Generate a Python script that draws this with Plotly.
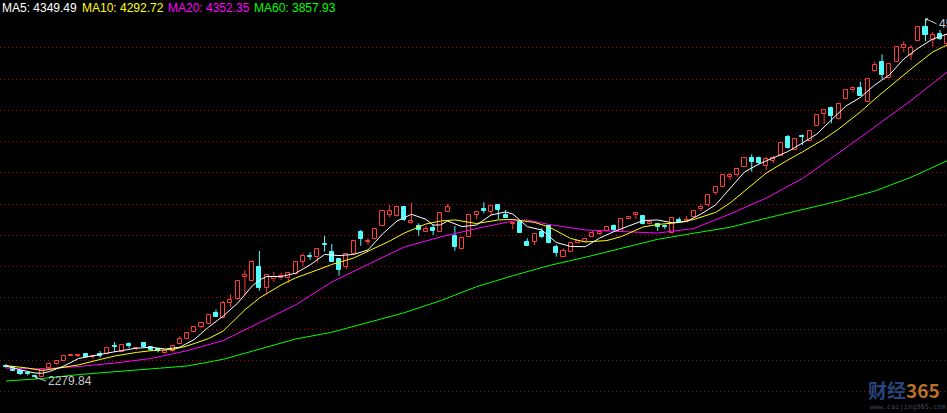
import plotly.graph_objects as go

# ---------------- data ----------------
opens = [2353, 2341, 2321, 2305, 2289, 2283, 2335, 2361, 2384, 2416,
         2416, 2427, 2410, 2424, 2427, 2481, 2442, 2491, 2459, 2497,
         2469, 2456, 2431, 2444, 2493, 2521, 2566, 2602, 2621, 2687,
         2659, 2755, 2777, 2918, 2896, 2982, 2847, 2905, 2911, 2911,
         2939, 3018, 3054, 3046, 3131, 3080, 3033, 2986, 3070, 3206,
         3144, 3160, 3249, 3318, 3310, 3370, 3267, 3248, 3210, 3235,
         3210, 3334, 3182, 3099, 3178, 3318, 3353, 3338, 3381, 3317,
         3261, 3274, 3146, 3146, 3210, 3248, 3112, 3050, 3082, 3135,
         3146, 3178, 3195, 3216, 3246, 3210, 3289, 3318, 3310, 3257,
         3257, 3248, 3203, 3285, 3274, 3306, 3353, 3381, 3455, 3498,
         3560, 3573, 3626, 3679, 3679, 3632, 3662, 3696, 3814, 3733,
         3824, 3790, 3888, 3963, 4003, 3931, 4059, 4115, 4131, 4042,
         4240, 4294, 4195, 4294, 4383, 4341, 4432, 4522, 4437, 4475,
         4411]
highs = [2363, 2347, 2328, 2312, 2293, 2334, 2373, 2385, 2421, 2423,
         2421, 2428, 2415, 2446, 2466, 2504, 2485, 2502, 2469, 2504,
         2472, 2459, 2449, 2478, 2542, 2561, 2600, 2625, 2677, 2713,
         2766, 2809, 2895, 2965, 3029, 3086, 2936, 2952, 2947, 2945,
         3016, 3071, 3078, 3105, 3184, 3131, 3041, 3068, 3150, 3221,
         3169, 3227, 3343, 3381, 3368, 3376, 3395, 3263, 3246, 3257,
         3329, 3387, 3246, 3178, 3323, 3336, 3398, 3381, 3384, 3349,
         3274, 3275, 3167, 3198, 3231, 3253, 3128, 3103, 3137, 3154,
         3166, 3217, 3214, 3240, 3257, 3291, 3312, 3329, 3313, 3275,
         3263, 3256, 3297, 3302, 3312, 3345, 3387, 3448, 3499, 3576,
         3587, 3614, 3681, 3705, 3690, 3690, 3694, 3782, 3829, 3803,
         3832, 3857, 3957, 3992, 4010, 4027, 4118, 4138, 4170, 4189,
         4298, 4345, 4283, 4392, 4430, 4405, 4520, 4572.39, 4490, 4501,
         4481]
lows = [2337, 2318, 2293, 2289, 2279.84, 2282, 2331, 2357, 2382, 2414,
        2408, 2408, 2397, 2403, 2424, 2442, 2440, 2464, 2453, 2468,
        2449, 2437, 2430, 2440, 2491, 2520, 2565, 2595, 2619, 2664,
        2657, 2730, 2773, 2805, 2894, 2832, 2815, 2890, 2901, 2883,
        2936, 2986, 3029, 3011, 3082, 3016, 2928, 2969, 3067, 3120,
        3125, 3157, 3246, 3302, 3307, 3278, 3263, 3184, 3208, 3189,
        3208, 3333, 3088, 3096, 3176, 3291, 3327, 3317, 3289, 3297,
        3225, 3201, 3118, 3125, 3169, 3134, 3050, 3048, 3080, 3134,
        3144, 3174, 3189, 3214, 3210, 3208, 3288, 3291, 3256, 3256,
        3216, 3227, 3199, 3267, 3273, 3304, 3342, 3370, 3445, 3496,
        3542, 3562, 3624, 3594, 3641, 3605, 3649, 3694, 3741, 3729,
        3765, 3788, 3886, 3899, 3903, 3929, 4057, 4102, 4078, 4040,
        4234, 4185, 4193, 4293, 4358, 4309, 4430, 4430, 4394, 4437,
        4385]
closes = [2341, 2321, 2299, 2296, 2283, 2329, 2363, 2382, 2414, 2421,
          2419, 2411, 2414, 2417, 2464, 2470, 2483, 2478, 2465, 2470,
          2453, 2446, 2448, 2476, 2525, 2559, 2598, 2623, 2675, 2666,
          2751, 2773, 2894, 2933, 3018, 2851, 2933, 2922, 2926, 2943,
          3014, 3054, 3046, 3097, 3123, 3018, 2965, 3067, 3148, 3165,
          3153, 3225, 3342, 3340, 3366, 3285, 3278, 3221, 3229, 3216,
          3327, 3366, 3114, 3167, 3317, 3334, 3344, 3374, 3349, 3299,
          3267, 3203, 3120, 3195, 3174, 3135, 3071, 3086, 3135, 3152,
          3163, 3199, 3210, 3238, 3221, 3289, 3302, 3327, 3257, 3274,
          3243, 3243, 3295, 3274, 3283, 3342, 3370, 3445, 3498, 3573,
          3573, 3611, 3679, 3658, 3651, 3675, 3679, 3779, 3743, 3801,
          3816, 3854, 3956, 3989, 3952, 4025, 4117, 4131, 4080, 4187,
          4277, 4213, 4281, 4390, 4405, 4387, 4518, 4469, 4469, 4441,
          4469]
days = list(range(len(closes)))

# moving-average lines at selected days
ma5_days = [0, 2, 4, 5, 6, 8, 10, 12, 14, 16, 18, 20, 22, 24, 26, 28, 30, 32, 34, 35,
            36, 38, 40, 42, 44, 46, 48, 50, 52, 54, 56, 58, 59, 60, 61, 63, 65, 67, 69, 70,
            72, 74, 76, 78, 80, 82, 84, 86, 88, 90, 92, 94, 96, 98, 100, 102, 104, 106, 108, 110,
            112, 114, 116, 118, 120, 122, 124, 126, 128, 130]
ma5_vals = [2350, 2325, 2305, 2304, 2315, 2350, 2398, 2417, 2433, 2449, 2464, 2470, 2459, 2470, 2520, 2600, 2670, 2753, 2862, 2901,
            2923, 2923, 2944, 2997, 3064, 3057, 3064, 3093, 3195, 3278, 3321, 3289, 3252, 3253, 3278, 3242, 3253, 3317, 3336, 3323,
            3242, 3221, 3141, 3115, 3114, 3169, 3211, 3246, 3281, 3285, 3267, 3275, 3323, 3381, 3489, 3592, 3643, 3681, 3723, 3777,
            3835, 3925, 4014, 4069, 4149, 4213, 4315, 4385, 4443, 4475]
ma10_days = [0, 3, 5, 8, 10, 13, 15, 18, 20, 23, 25, 28, 30, 33, 35, 38, 40, 43, 45, 48,
             50, 53, 55, 58, 60, 62, 65, 68, 70, 73, 75, 78, 80, 83, 85, 88, 90, 93, 95, 98,
             100, 103, 105, 108, 110, 113, 115, 118, 120, 123, 125, 128, 130]
ma10_vals = [2353, 2337, 2321, 2341, 2357, 2392, 2414, 2437, 2448, 2456, 2478, 2526, 2574, 2710, 2785, 2869, 2914, 2965, 3000, 3041,
             3086, 3150, 3201, 3259, 3278, 3285, 3262, 3285, 3288, 3269, 3240, 3166, 3144, 3153, 3179, 3240, 3256, 3269, 3288, 3333,
             3393, 3509, 3585, 3669, 3720, 3803, 3867, 3976, 4059, 4174, 4251, 4360, 4405]
ma20_days = [0, 5, 10, 15, 20, 25, 30, 35, 40, 45, 50, 55, 60, 65, 70, 72, 75, 80, 85, 90,
             95, 100, 105, 110, 115, 120, 125, 130]
ma20_vals = [2337, 2331, 2347, 2369, 2398, 2448, 2513, 2625, 2741, 2888, 3000, 3112, 3176, 3230, 3278, 3285, 3256, 3221, 3211, 3201,
             3230, 3323, 3425, 3550, 3713, 3880, 4049, 4232]
ma60_days = [0, 5, 10, 15, 20, 25, 30, 35, 40, 45, 50, 55, 60, 65, 70, 75, 80, 85, 90, 95,
             100, 105, 110, 115, 120, 125, 130]
ma60_vals = [2254, 2270, 2295, 2312, 2331, 2350, 2393, 2457, 2523, 2566, 2630, 2691, 2768, 2858, 2928, 2993, 3046, 3104, 3161, 3200,
             3238, 3296, 3351, 3406, 3470, 3558, 3664]

header_texts = ["MA5: 4349.49", "MA10: 4292.72", "MA20: 4352.35", "MA60: 3857.93"]
grid_levels = [2187 + 200 * k for k in range(12)]
low_day, low_val = 4, 2279.84
high_day, high_val = 127, 4572.39

# ---------------- styling ----------------
RED = "#ff3c3c"
CYAN = "#54fcfc"
MA_COLORS = ["#ffffff", "#ffff00", "#ff00ff", "#00ff00"]

up_x, up_base, up_h = [], [], []
dn_x, dn_base, dn_h = [], [], []
up_wx, up_wy, dn_wx, dn_wy = [], [], [], []
for d, o, h, l, c in zip(days, opens, highs, lows, closes):
    top, bot = max(o, c), min(o, c)
    if c >= o:
        up_x.append(d); up_base.append(bot); up_h.append(max(top - bot, 0.5))
        up_wx += [d, d, None, d, d, None]
        up_wy += [h, top, None, bot, l, None]
    else:
        dn_x.append(d); dn_base.append(bot); dn_h.append(max(top - bot, 0.5))
        dn_wx += [d, d, None]
        dn_wy += [h, l, None]

fig = go.Figure()
fig.add_trace(go.Bar(x=up_x, y=up_h, base=up_base, width=0.56,
                     marker=dict(color="#000000", line=dict(color=RED, width=1)),
                     hoverinfo="skip"))
fig.add_trace(go.Bar(x=dn_x, y=dn_h, base=dn_base, width=0.56,
                     marker=dict(color=CYAN, line=dict(color=CYAN, width=1)),
                     hoverinfo="skip"))
fig.add_trace(go.Scatter(x=up_wx, y=up_wy, mode="lines",
                         line=dict(color=RED, width=1), hoverinfo="skip"))
fig.add_trace(go.Scatter(x=dn_wx, y=dn_wy, mode="lines",
                         line=dict(color=CYAN, width=1), hoverinfo="skip"))

for (xs, ys), col in zip([(ma60_days, ma60_vals), (ma20_days, ma20_vals),
                          (ma10_days, ma10_vals), (ma5_days, ma5_vals)],
                         [MA_COLORS[3], MA_COLORS[2], MA_COLORS[1], MA_COLORS[0]]):
    fig.add_trace(go.Scatter(x=xs, y=ys, mode="lines",
                             line=dict(color=col, width=1), hoverinfo="skip"))

W, H = 947, 413
header_x = [0, 80, 166, 252]
for txt, px, col in zip(header_texts, header_x, MA_COLORS):
    fig.add_annotation(text=txt, xref="paper", yref="paper", x=px / W, y=1 - 8.5 / H,
                       xanchor="left", yanchor="middle", showarrow=False,
                       font=dict(family="Liberation Sans", size=12, color=col))

fig.add_annotation(x=low_day, y=low_val, text=f"{low_val:.2f}", showarrow=True,
                   ax=11, ay=4, xanchor="left", yanchor="middle",
                   arrowhead=1, arrowsize=0.7, arrowwidth=1, arrowcolor="#c8c8c8",
                   font=dict(family="Liberation Sans", size=12, color="#c8c8c8"))
fig.add_annotation(x=high_day, y=high_val, text=f"{high_val:.2f}", showarrow=True,
                   ax=11, ay=5, xanchor="left", yanchor="middle",
                   arrowhead=1, arrowsize=0.7, arrowwidth=1, arrowcolor="#c8c8c8",
                   font=dict(family="Liberation Sans", size=12, color="#c8c8c8"))

# watermark
fig.add_annotation(text='<b><span style="color:#26457a">财经</span><span style="color:#b8732a">365</span></b>',
                   xref="paper", yref="paper", x=866 / W, y=1 - 389 / H, xanchor="left", yanchor="middle",
                   showarrow=False, font=dict(family="Noto Sans CJK SC", size=19))
fig.add_annotation(text="www.caijing365.com", xref="paper", yref="paper", x=868 / W, y=1 - 407 / H,
                   xanchor="left", yanchor="middle", showarrow=False,
                   font=dict(family="DejaVu Sans Mono", size=7, color="#3c4c5c"))

y_top = 4692.6
y_bot = y_top - 6.4 * H
fig.update_layout(
    width=W, height=H, margin=dict(l=0, r=0, t=0, b=0),
    paper_bgcolor="#000000", plot_bgcolor="#000000",
    showlegend=False, barmode="overlay", bargap=0,
    xaxis=dict(range=[-0.83, 129.97], visible=True, showgrid=False, zeroline=False,
               showticklabels=False, ticks="", showline=False, fixedrange=True),
    yaxis=dict(range=[y_bot, y_top], tickvals=grid_levels, showgrid=True,
               gridcolor="#b00000", gridwidth=1, griddash="1px,3px",
               zeroline=False, showticklabels=False, ticks="", showline=False, fixedrange=True),
)

fig.write_html("out.html", config={"displayModeBar": False},
               post_script="document.body.style.margin='0';")
